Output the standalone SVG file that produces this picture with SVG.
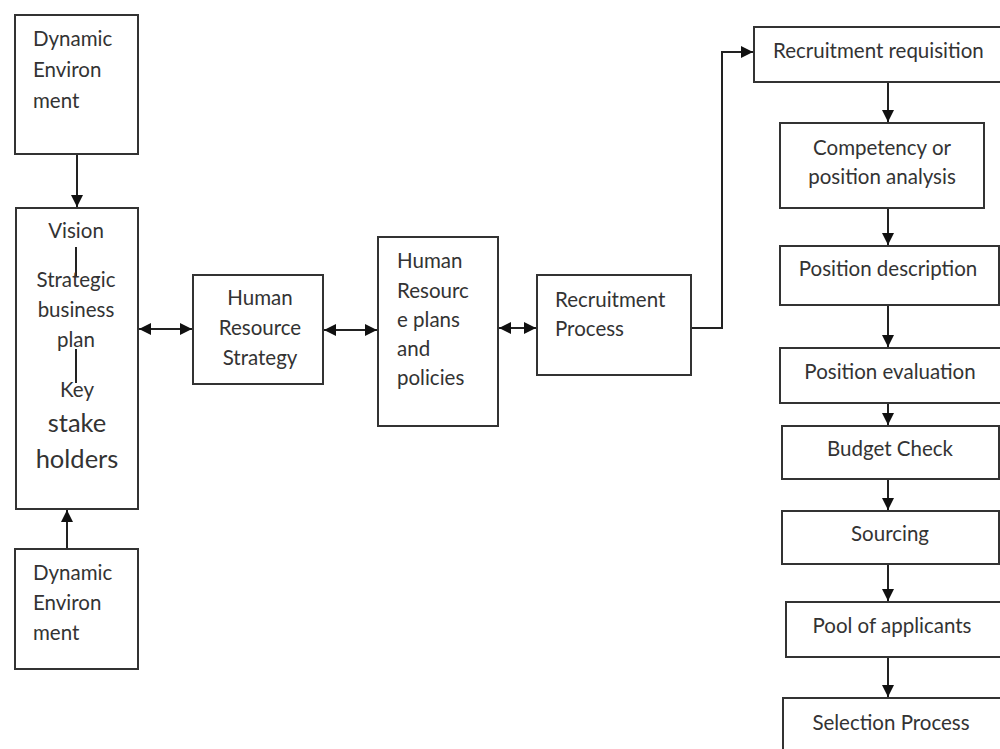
<svg xmlns="http://www.w3.org/2000/svg" width="1000" height="749" viewBox="0 0 1000 749">
<defs>
<style>
.box{fill:#fff;stroke:#333;stroke-width:2}
.t{font-family:Lato,"Liberation Sans",sans-serif;font-size:20.5px;fill:#333}
.c{text-anchor:middle}
.big{font-size:25.5px}
.ln{fill:none;stroke:#222;stroke-width:2}
</style>
<marker id="ah" viewBox="0 0 10 10" refX="10" refY="5" markerWidth="12" markerHeight="12" markerUnits="userSpaceOnUse" orient="auto-start-reverse">
<path d="M0,0 L10,5 L0,10 Z" fill="#111"/>
</marker>
</defs>
<rect width="1000" height="749" fill="#fff"/>
<g id="connectors">
<line class="ln" x1="77" y1="154" x2="77" y2="207" marker-end="url(#ah)"/>
<line class="ln" x1="67" y1="549" x2="67" y2="510" marker-end="url(#ah)"/>
<line class="ln" x1="139" y1="329" x2="192" y2="329" marker-start="url(#ah)" marker-end="url(#ah)"/>
<line class="ln" x1="324" y1="330" x2="377" y2="330" marker-start="url(#ah)" marker-end="url(#ah)"/>
<line class="ln" x1="499" y1="328" x2="536" y2="328" marker-start="url(#ah)" marker-end="url(#ah)"/>
<path class="ln" d="M691,328 H722 V52 H753" marker-end="url(#ah)"/>
<line class="ln" x1="888" y1="82" x2="888" y2="122" marker-end="url(#ah)"/>
<line class="ln" x1="888" y1="208" x2="888" y2="245" marker-end="url(#ah)"/>
<line class="ln" x1="888" y1="305" x2="888" y2="347" marker-end="url(#ah)"/>
<line class="ln" x1="888" y1="403" x2="888" y2="425" marker-end="url(#ah)"/>
<line class="ln" x1="888" y1="479" x2="888" y2="510" marker-end="url(#ah)"/>
<line class="ln" x1="888" y1="564" x2="888" y2="601" marker-end="url(#ah)"/>
<line class="ln" x1="888" y1="657" x2="888" y2="697" marker-end="url(#ah)"/>
</g>
<g id="dyn-top">
<rect class="box" x="15" y="15" width="123" height="139"/>
<text class="t" x="33" y="46">Dynamic</text>
<text class="t" x="33" y="77">Environ</text>
<text class="t" x="33" y="108">ment</text>
</g>
<g id="vision">
<rect class="box" x="16" y="208" width="122" height="301"/>
<text class="t c" x="76" y="238">Vision</text>
<line class="ln" x1="76" y1="247" x2="76" y2="277" stroke-width="1.5"/>
<text class="t c" x="76" y="287">Strategic</text>
<text class="t c" x="76" y="317">business</text>
<text class="t c" x="76" y="347">plan</text>
<line class="ln" x1="76" y1="349" x2="76" y2="383" stroke-width="1.5"/>
<text class="t c" x="77" y="397">Key</text>
<text class="t c big" x="77" y="432">stake</text>
<text class="t c big" x="77" y="468">holders</text>
</g>
<g id="dyn-bottom">
<rect class="box" x="15" y="549" width="123" height="120"/>
<text class="t" x="33" y="580">Dynamic</text>
<text class="t" x="33" y="610">Environ</text>
<text class="t" x="33" y="640">ment</text>
</g>
<g id="hr-strategy">
<rect class="box" x="193" y="275" width="130" height="109"/>
<text class="t c" x="260" y="305">Human</text>
<text class="t c" x="260" y="335">Resource</text>
<text class="t c" x="260" y="365">Strategy</text>
</g>
<g id="hr-plans">
<rect class="box" x="378" y="237" width="120" height="189"/>
<text class="t" x="397" y="268">Human</text>
<text class="t" x="397" y="298">Resourc</text>
<text class="t" x="397" y="327">e plans</text>
<text class="t" x="397" y="356">and</text>
<text class="t" x="397" y="385">policies</text>
</g>
<g id="recruitment-process">
<rect class="box" x="537" y="275" width="154" height="100"/>
<text class="t" x="555" y="307">Recruitment</text>
<text class="t" x="555" y="336">Process</text>
</g>
<g id="requisition">
<rect class="box" x="754" y="27" width="260" height="55"/>
<text class="t" x="773" y="58">Recruitment requisition</text>
</g>
<g id="competency">
<rect class="box" x="780" y="123" width="204" height="85"/>
<text class="t c" x="882" y="155">Competency or</text>
<text class="t c" x="882" y="184">position analysis</text>
</g>
<g id="pos-desc">
<rect class="box" x="780" y="246" width="219" height="59"/>
<text class="t c" x="888" y="276">Position description</text>
</g>
<g id="pos-eval">
<rect class="box" x="780" y="348" width="222" height="55"/>
<text class="t c" x="890" y="379">Position evaluation</text>
</g>
<g id="budget">
<rect class="box" x="782" y="426" width="217" height="53"/>
<text class="t c" x="890" y="456">Budget Check</text>
</g>
<g id="sourcing">
<rect class="box" x="782" y="511" width="217" height="53"/>
<text class="t c" x="890" y="541">Sourcing</text>
</g>
<g id="pool">
<rect class="box" x="786" y="602" width="216" height="55"/>
<text class="t c" x="892" y="633">Pool of applicants</text>
</g>
<g id="selection">
<rect class="box" x="783" y="698" width="220" height="60"/>
<text class="t c" x="891" y="730">Selection Process</text>
</g>
</svg>
